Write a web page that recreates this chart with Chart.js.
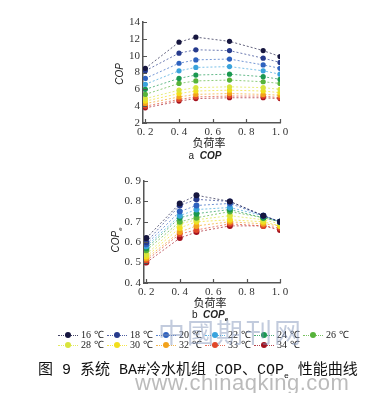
<!DOCTYPE html>
<html><head><meta charset="utf-8">
<script src="https://cdn.jsdelivr.net/npm/chart.js@4.4.0/dist/chart.umd.min.js"></script>
<style>
body{margin:0;width:381px;height:393px;background:#fff;position:relative;overflow:hidden;font-family:"Liberation Serif",serif;}
canvas{position:absolute;left:0;}
.t{position:absolute;white-space:nowrap;color:#222;line-height:1;}
.cjk{font-family:"Noto Sans CJK SC",sans-serif;}
.lg{position:absolute;font-size:10px;color:#222;white-space:nowrap;line-height:10px;}
.mk{display:inline-block;position:relative;width:20px;height:10px;vertical-align:top;margin-right:3px;}
.mk i{position:absolute;left:0;right:0;top:5px;border-top:1px dotted;}
.mk b{position:absolute;left:7px;top:2px;width:6px;height:6px;border-radius:50%;}
</style></head><body>
<canvas id="c1" width="381" height="165" style="top:0"></canvas>
<canvas id="c2" width="381" height="155" style="top:165px"></canvas>

<div class="t" style="left:119px;top:74px;transform:translate(-50%,-50%) rotate(-90deg);font:italic 10px 'Liberation Sans',sans-serif;">COP</div>
<div class="t cjk" style="left:209px;top:142px;transform:translate(-50%,-50%);font-size:11px;">负荷率</div>
<div class="t" style="left:205px;top:155px;transform:translate(-50%,-50%);font:10px 'Liberation Sans',sans-serif;">a&nbsp;&nbsp;<b><i>COP</i></b></div>

<div class="t" style="left:116px;top:240px;transform:translate(-50%,-50%) rotate(-90deg);font:italic 10px 'Liberation Sans',sans-serif;">COP<sub style="font-size:6px">e</sub></div>
<div class="t cjk" style="left:210px;top:302px;transform:translate(-50%,-50%);font-size:11px;">负荷率</div>
<div class="t" style="left:210px;top:315px;transform:translate(-50%,-50%);font:10px 'Liberation Sans',sans-serif;">b&nbsp;&nbsp;<b><i>COP<sub style="font-size:6px">e</sub></i></b></div>

<div id="legend"></div>

<div class="t" style="left:38px;top:363px;font-size:15px;letter-spacing:0px;color:#111;font-family:'Liberation Mono','Noto Sans CJK SC',monospace;">图 9 系统 BA#冷水机组 COP、COP<sub style="font-size:8px">e</sub> 性能曲线</div>

<div class="t cjk" style="left:158px;top:318px;font-size:27px;color:rgba(120,140,180,0.45);letter-spacing:2px;">中國期刊网</div>
<div class="t" style="left:135px;top:370px;font:22px 'Liberation Sans',sans-serif;color:rgba(120,120,120,0.5);letter-spacing:0.5px;">www.chinaqking.com</div>

<script>
const loadRates = [0.2, 0.4, 0.5, 0.7, 0.9, 1.0];
const xTicks = [0.2, 0.4, 0.6, 0.8, 1.0];
const temps = ['16 ℃','18 ℃','20 ℃','22 ℃','24 ℃','26 ℃','28 ℃','30 ℃','32 ℃','33 ℃','34 ℃'];
const colors = ['#16163f','#263a8c','#2e62bf','#3aa3dc','#1a9850','#56b33a','#d9e43c','#f2de1c','#f2a21c','#e0482a','#a3121e'];
const copValues = [
  [8.5, 11.6, 12.2, 11.7, 10.6, 9.9],
  [8.2, 10.3, 10.7, 10.6, 9.7, 9.2],
  [7.3, 9.1, 9.5, 9.6, 8.9, 8.5],
  [6.6, 8.2, 8.6, 8.7, 8.2, 7.8],
  [6.0, 7.3, 7.7, 7.8, 7.5, 7.2],
  [5.4, 6.7, 7.0, 7.1, 6.9, 6.7],
  [4.9, 5.9, 6.2, 6.3, 6.2, 6.0],
  [4.6, 5.5, 5.8, 5.9, 5.8, 5.6],
  [4.3, 5.1, 5.4, 5.5, 5.4, 5.3],
  [4.0, 4.8, 5.1, 5.2, 5.2, 5.0],
  [3.8, 4.6, 4.9, 5.0, 5.0, 4.9]
];
const copeValues = [
  [0.62, 0.79, 0.83, 0.80, 0.73, 0.70],
  [0.60, 0.78, 0.81, 0.80, 0.73, 0.70],
  [0.59, 0.75, 0.78, 0.79, 0.73, 0.70],
  [0.58, 0.73, 0.76, 0.77, 0.73, 0.70],
  [0.57, 0.72, 0.74, 0.76, 0.72, 0.70],
  [0.56, 0.70, 0.72, 0.75, 0.72, 0.70],
  [0.54, 0.69, 0.71, 0.73, 0.71, 0.69],
  [0.53, 0.67, 0.70, 0.71, 0.70, 0.68],
  [0.52, 0.65, 0.68, 0.70, 0.69, 0.68],
  [0.51, 0.64, 0.66, 0.69, 0.68, 0.67],
  [0.50, 0.62, 0.65, 0.68, 0.68, 0.66]
];

const inTicks = {id:'inTicks', afterDraw(chart){
  const {ctx, chartArea:a, scales:{x, y}} = chart;
  ctx.save(); ctx.strokeStyle = '#555'; ctx.lineWidth = 1.2; ctx.beginPath();
  x.ticks.forEach(t => { const px = Math.round(x.getPixelForValue(t.value)) + 0.5; ctx.moveTo(px, a.bottom); ctx.lineTo(px, a.bottom - 4); });
  y.ticks.forEach(t => { const py = Math.round(y.getPixelForValue(t.value)) + 0.5; ctx.moveTo(a.left, py); ctx.lineTo(a.left + 4, py); });
  ctx.stroke(); ctx.restore();
}};

function hexA(h, a){ const n = parseInt(h.slice(1),16); return `rgba(${n>>16},${(n>>8)&255},${n&255},${a})`; }

function makeChart(id, values, yMin, yMax, yStep, yFmt, padTop, yWidth, xHeight, radius){
  const datasets = values.map((vals, i) => ({
    label: temps[i],
    data: loadRates.map((x, j) => ({x, y: vals[j]})),
    borderColor: hexA(colors[i], 0.75),
    backgroundColor: colors[i],
    pointBackgroundColor: colors[i],
    pointBorderWidth: 0,
    pointRadius: radius,
    borderWidth: 0.9,
    borderDash: [2, 2],
    tension: 0
  }));
  return new Chart(document.getElementById(id), {
    type: 'line',
    data: {datasets},
    options: {
      responsive: false, animation: false, devicePixelRatio: 1,
      layout: {padding: {left: 0, right: 101, top: padTop, bottom: 0}},
      plugins: {legend: {display: false}, tooltip: {enabled: false}},
      scales: {
        x: {
          type: 'linear', min: 0.186, max: 1.0,
          afterBuildTicks: s => { s.ticks = xTicks.map(v => ({value: v})); },
          afterFit: s => { s.height = xHeight; },
          grid: {display: false, drawTicks: false},
          border: {display: true, color: '#555', width: 1.5},
          ticks: {padding: 3, color: '#333', font: {family: 'Liberation Serif', size: 11},
                  callback: v => v.toFixed(1).replace('.', '. ')}
        },
        y: {
          min: yMin, max: yMax,
          afterFit: s => { s.width = yWidth; },
          grid: {display: false, drawTicks: false},
          border: {display: true, color: '#555', width: 1.5},
          ticks: {stepSize: yStep, padding: 3, color: '#333', font: {family: 'Liberation Serif', size: 11},
                  callback: yFmt}
        }
      }
    },
    plugins: [inTicks]
  });
}

makeChart('c1', copValues, 2, 14, 2, v => String(Math.round(v)), 22, 143, 42, 2.6);
makeChart('c2', copeValues, 0.4, 0.9, 0.1, v => v.toFixed(1).replace('.', '. '), 16, 144, 37, 3);

// legend
const lg = document.getElementById('legend');
const xs = [58, 107, 156, 205, 254, 303];
temps.forEach((t, i) => {
  const row = i < 6 ? 0 : 1, col = i < 6 ? i : i - 6;
  const d = document.createElement('div');
  d.className = 'lg';
  d.style.left = xs[col] + 'px';
  d.style.top = (row === 0 ? 330 : 340) + 'px';
  d.innerHTML = `<span class="mk"><i style="border-color:${hexA(colors[i],0.8)}"></i><b style="background:${colors[i]}"></b></span>${t}`;
  lg.appendChild(d);
});
</script>
</body></html>
